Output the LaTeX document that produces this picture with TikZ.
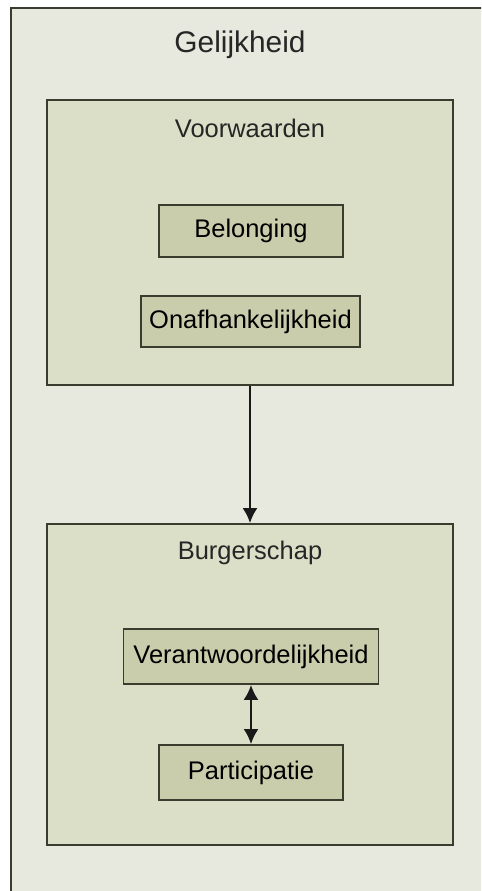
\documentclass[tikz,border=0pt]{standalone}
\usepackage{fontspec}
\setmainfont{Liberation Sans}
\usetikzlibrary{arrows.meta}
\definecolor{pagebg}{HTML}{E8E9DE}
\definecolor{groupbg}{HTML}{DCDFC8}
\definecolor{itembg}{HTML}{C9CDAB}
\definecolor{edge}{HTML}{3A3D2E}
\tikzset{>={Latex[length=8.5pt,width=8.5pt]}}
\tikzset{
    group/.style={rectangle,draw=edge,fill=groupbg,line width=1.1pt,minimum width=8.12cm},
    item/.style={rectangle,draw=edge,fill=itembg,line width=1.1pt,inner sep=2pt,font=\fontsize{14.5}{16}\selectfont},
    grouptitle/.style={font=\fontsize{14.5}{16}\selectfont,text=black!85},
    conn/.style={line width=1.1pt,draw=black!90},
}

\begin{document}
\begin{tikzpicture}[x=0.02cm,y=-0.02cm]
		\useasboundingbox (0,0) rectangle (481,891);
		\clip (0,0) rectangle (481,891);
		\fill[white] (0,0) rectangle (481,891);
		\fill[pagebg] (11,8) rectangle (500,910);
		\draw[edge,line width=1.1pt] (11,910) -- (11,8) -- (500,8);
		\node[font=\fontsize{17}{20}\selectfont,text=black!85] (title) at (240,45) {Gelijkheid};
	
		\node[group,minimum height=5.70cm] (voorw) at (250,242.5) {};
		\node[grouptitle] (voorwt) at (250,128) {Voorwaarden};
		\node[item,minimum width=3.68cm,minimum height=1.04cm] (bel) at (251,231) {Belonging};
		\node[item,minimum width=4.38cm,minimum height=1.02cm] (onaf) at (250.5,321.5) {Onafhankelijkheid};
	
		\node[group,minimum height=6.42cm] (burg) at (250,684.5) {};
		\node[grouptitle] (burgt) at (250,553) {Burgerschap};
		\node[item,minimum width=5.10cm,minimum height=1.10cm] (verant) at (251,656.5) {Verantwoordelijkheid};
		\node[item,minimum width=3.68cm,minimum height=1.10cm] (part) at (251,772.5) {Participatie};
	
		\draw[conn,->] (voorw) -- (burg);
		\draw[conn,<->] (verant) -- (part);
	\end{tikzpicture}
\end{document}
